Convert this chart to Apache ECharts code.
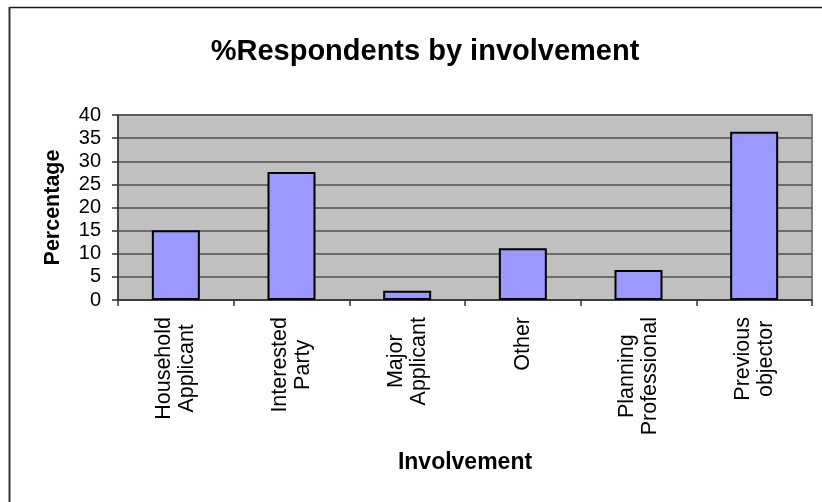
<!DOCTYPE html>
<html>
<head>
<meta charset="utf-8">
<title>%Respondents by involvement</title>
<script src="https://cdn.jsdelivr.net/npm/echarts@6/dist/echarts.min.js"></script>
<style>
  html, body { margin: 0; padding: 0; background: #ffffff; }
  #chart { width: 822px; height: 502px; }
</style>
</head>
<body>
<div id="chart"></div>
<script>
// Respondent involvement categories (line breaks are part of the axis label)
const categories = [
  'Household\nApplicant',
  'Interested\nParty',
  'Major\nApplicant',
  'Other',
  'Planning\nProfessional',
  'Previous\nobjector'
];

// Share of respondents in each category, in percent
const percentages = [15.1, 27.7, 2.0, 11.2, 6.5, 36.4];

// Value axis range and step
const yMin = 0;
const yMax = 40;
const yStep = 5;

const chartTitle = '%Respondents by involvement';
const xAxisTitle = 'Involvement';
const yAxisTitle = 'Percentage';

const FONT = '"Liberation Sans", Arial, Helvetica, sans-serif';

const chart = echarts.init(document.getElementById('chart'), null, { renderer: 'canvas' });

chart.setOption({
  animation: false,
  backgroundColor: '#ffffff',
  title: {
    text: chartTitle,
    left: 420,
    top: 32,
    textAlign: 'center',
    textStyle: { fontFamily: FONT, fontSize: 29, fontWeight: 'bold', color: '#000000' }
  },
  graphic: [
    // outer frame of the chart area (top and left edges)
    { type: 'line', shape: { x1: 9, y1: 7.5, x2: 822, y2: 7.5 }, style: { stroke: '#1a1a1a', lineWidth: 1.5 }, z: 10 },
    { type: 'line', shape: { x1: 9.5, y1: 7, x2: 9.5, y2: 502 }, style: { stroke: '#333333', lineWidth: 2 }, z: 10 }
  ],
  grid: {
    left: 118,
    top: 115,
    right: 10,
    bottom: 202,
    show: true,
    backgroundColor: '#c0c0c0',
    borderColor: '#808080',
    borderWidth: 2
  },
  xAxis: {
    type: 'category',
    data: categories,
    boundaryGap: true,
    name: xAxisTitle,
    nameLocation: 'middle',
    nameGap: 151,
    nameTextStyle: { fontFamily: FONT, fontSize: 23, fontWeight: 'bold', color: '#000000' },
    axisLine: { show: true, lineStyle: { color: '#333333', width: 1.5 } },
    axisTick: { show: true, inside: false, length: 6, lineStyle: { color: '#333333', width: 1.5 } },
    axisLabel: {
      interval: 0,
      rotate: 90,
      margin: 17,
      formatter: v => v.split('\n').map(s => '{c|' + s + '}').join('\n'),
      rich: {
        c: { align: 'center', fontFamily: FONT, fontSize: 21.5, lineHeight: 23, color: '#000000' }
      }
    },
    splitLine: { show: false }
  },
  yAxis: {
    type: 'value',
    min: yMin,
    max: yMax,
    interval: yStep,
    name: yAxisTitle,
    nameLocation: 'middle',
    nameGap: 54,
    nameTextStyle: { fontFamily: FONT, fontSize: 21.5, fontWeight: 'bold', color: '#000000' },
    axisLine: { show: true, lineStyle: { color: '#333333', width: 1.5 } },
    axisTick: { show: true, inside: false, length: 6, lineStyle: { color: '#333333', width: 1.5 } },
    axisLabel: { margin: 17, fontFamily: FONT, fontSize: 20, color: '#000000' },
    splitLine: { show: true, lineStyle: { color: '#505050', width: 1.5 } }
  },
  series: [{
    type: 'bar',
    data: percentages,
    barWidth: 48,
    itemStyle: { color: '#9999ff', borderColor: '#000000', borderWidth: 2 },
    emphasis: { disabled: true }
  }]
});
</script>
</body>
</html>
